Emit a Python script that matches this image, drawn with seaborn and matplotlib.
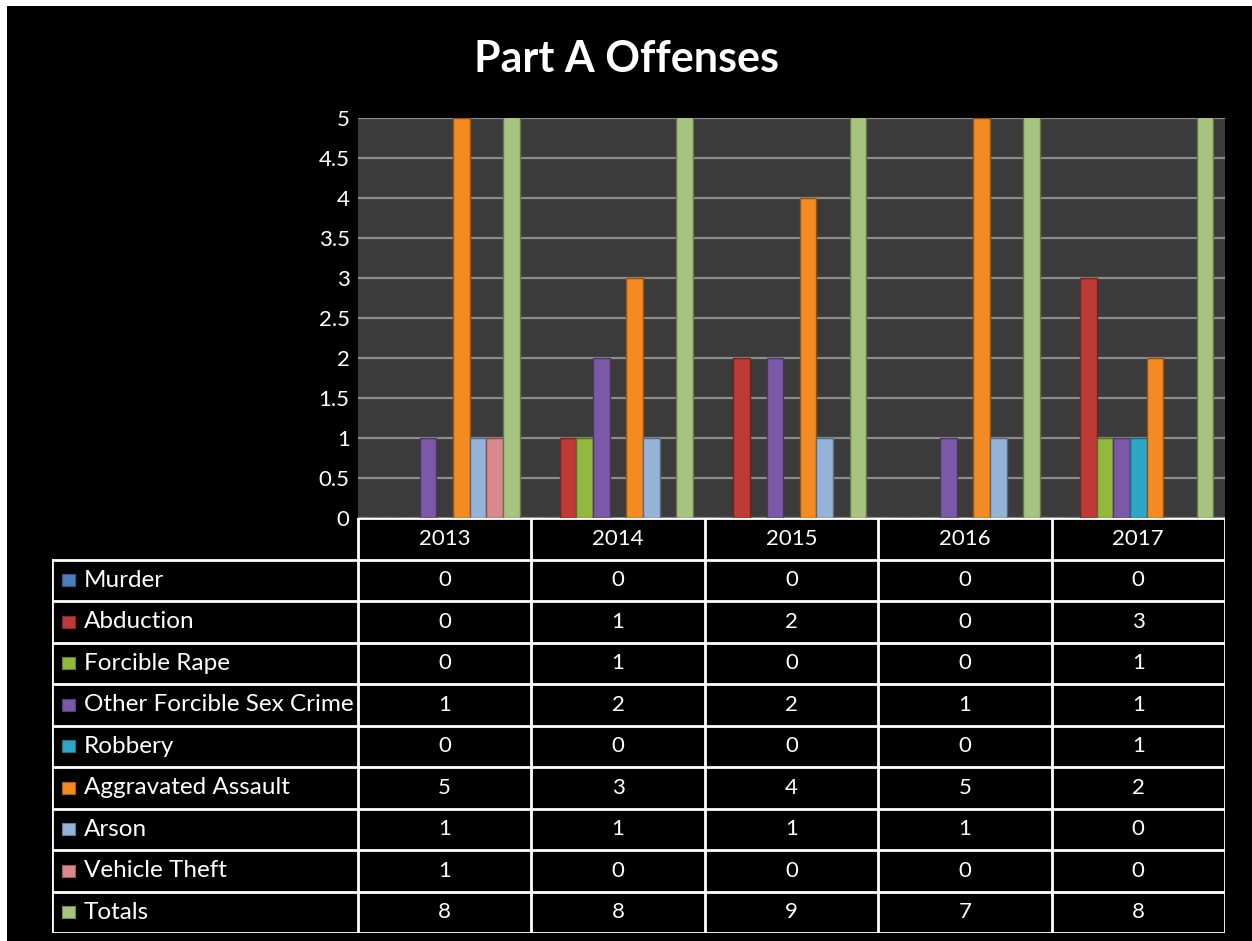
import matplotlib.pyplot as plt
import numpy as np
import pandas as pd
import seaborn as sns
from matplotlib.colors import to_rgb
from matplotlib.patches import Rectangle

# chart data
years = ["2013", "2014", "2015", "2016", "2017"]
offenses = ["Murder", "Abduction", "Forcible Rape", "Other Forcible Sex Crime",
            "Robbery", "Aggravated Assault", "Arson", "Vehicle Theft", "Totals"]
murder = [0, 0, 0, 0, 0]
abduction = [0, 1, 2, 0, 3]
forcible_rape = [0, 1, 0, 0, 1]
other_sex_crime = [1, 2, 2, 1, 1]
robbery = [0, 0, 0, 0, 1]
aggravated_assault = [5, 3, 4, 5, 2]
arson = [1, 1, 1, 1, 0]
vehicle_theft = [1, 0, 0, 0, 0]
totals = [8, 8, 9, 7, 8]

series = [murder, abduction, forcible_rape, other_sex_crime, robbery,
          aggravated_assault, arson, vehicle_theft, totals]
colors = ["#4a7ebb", "#be3a36", "#93b83f", "#7c58a8", "#2ea6c6",
          "#f38a22", "#95b3d7", "#d9898b", "#a6c47f"]

W, H = 1252, 941

# long form table for seaborn
rows = []
for name, vals in zip(offenses, series):
    for yr, v in zip(years, vals):
        rows.append({"year": yr, "offense": name, "count": v})
data = pd.DataFrame(rows)

sns.set_theme(style="dark")
plt.rcParams["font.family"] = ["Lato", "DejaVu Sans"]

fig = plt.figure(figsize=(W / 100, H / 100), dpi=100, facecolor="white")
# black page with thin white margin at top/left
fig.patches.append(Rectangle((7 / W, 0), 1, 1 - 6 / H, transform=fig.transFigure,
                             facecolor="black", edgecolor="none", zorder=-5))

fig.text(0.5, 1 - 59 / H, "Part A Offenses", color="white", fontsize=31,
         fontweight="bold", ha="center", va="center")

# bar chart
ax = fig.add_axes([358 / W, 1 - 518 / H, 867 / W, 400 / H])
ax.set_facecolor("#3b3b3b")
sns.barplot(data=data, x="year", y="count", hue="offense", order=years,
            hue_order=offenses, palette=colors, width=0.865, legend=False,
            saturation=1, ax=ax, zorder=3)
for cont, c in zip(ax.containers, colors):
    edge = tuple(np.array(to_rgb(c)) * 0.6)
    for bar in cont:
        bar.set_edgecolor(edge)
        bar.set_linewidth(1)

ax.set_ylim(0, 5)
ax.set_xlim(-0.5, len(years) - 0.5)
ticks = np.arange(0, 5.01, 0.5)
ax.set_yticks(ticks)
ax.set_yticklabels([f"{t:g}" for t in ticks], color="white", fontsize=16)
ax.yaxis.grid(True, color="#8c8c8c", linewidth=1.6, zorder=0)
ax.xaxis.grid(False)
ax.set_xticks([])
ax.set_xlabel("")
ax.set_ylabel("")
ax.tick_params(axis="y", length=0, pad=6)
for sp in ax.spines.values():
    sp.set_visible(False)

# data table underneath
tax = fig.add_axes([52 / W, 1 - 933 / H, 1173 / W, 415 / H])
lab_w = 306 / 173.4
n = len(offenses)
tax.set_xlim(-lab_w, len(years))
tax.set_ylim(n + 1, 0)
tax.axis("off")
lc = dict(color="white", linewidth=2, solid_capstyle="projecting")

for i in range(len(years) + 1):
    tax.plot([i, i], [0, n + 1], **lc)
tax.plot([-lab_w, -lab_w], [1, n + 1], **lc)
tax.plot([0, len(years)], [0, 0], **lc)
for r in range(1, n + 2):
    tax.plot([-lab_w, len(years)], [r, r], **lc)

for i, yr in enumerate(years):
    tax.text(i + 0.5, 0.5, yr, color="white", fontsize=16, ha="center", va="center")

for r, (name, vals, c) in enumerate(zip(offenses, series, colors)):
    yc = r + 1.5
    tax.add_patch(Rectangle((-lab_w + 0.058, yc - 0.15), 0.075, 0.30,
                            facecolor=c, edgecolor=tuple(np.array(to_rgb(c)) * 0.7),
                            linewidth=0.8))
    tax.text(-lab_w + 0.185, yc, name, color="white", fontsize=17.5,
             ha="left", va="center")
    for i, v in enumerate(vals):
        tax.text(i + 0.5, yc, str(v), color="white", fontsize=16,
                 ha="center", va="center")

fig.savefig("out.png", dpi=100, facecolor=fig.get_facecolor())
